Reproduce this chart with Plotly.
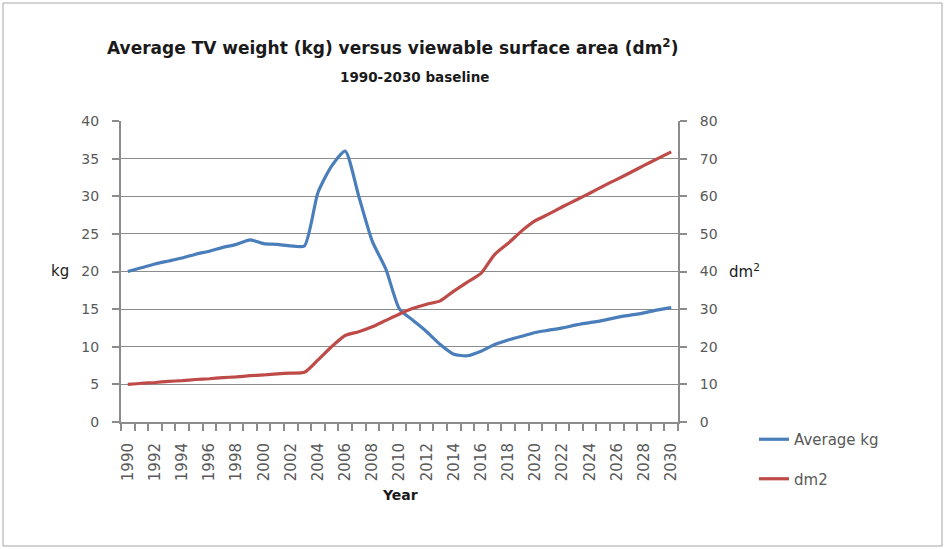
import plotly.graph_objects as go

# Years (one category per year)
years = list(range(1990, 2031))

# Average TV weight, kg
avg_kg = [20.0, 20.5, 21.0, 21.4, 21.8, 22.3, 22.7, 23.2, 23.6, 24.2,
          23.7, 23.6, 23.4, 23.4, 30.5, 34.0, 36.0, 30.0, 24.0, 20.3,
          15.0, 13.5, 12.0, 10.3, 9.0, 8.8, 9.4, 10.3, 10.9, 11.4,
          11.9, 12.2, 12.5, 12.9, 13.2, 13.5, 13.9, 14.2, 14.5, 14.9, 15.2]

# Viewable surface area, dm2
area_dm2 = [10.0, 10.3, 10.5, 10.8, 11.0, 11.3, 11.5, 11.8, 12.0, 12.3,
            12.5, 12.8, 13.0, 13.2, 16.5, 20.0, 23.0, 24.0, 25.3, 27.0,
            28.7, 30.2, 31.3, 32.2, 34.8, 37.2, 39.5, 44.5, 47.5, 50.8,
            53.5, 55.3, 57.2, 59.0, 60.8, 62.7, 64.5, 66.3, 68.2, 70.0, 71.8]

x_labels = [y for y in years if y % 2 == 0]

FONT = "DejaVu Sans, sans-serif"
GRAY = "#595959"
DARK = "#1a1a1a"
GRID = "#8c8c8c"

fig = go.Figure()
fig.add_trace(go.Scatter(
    x=years, y=avg_kg, name="Average kg", mode="lines",
    line=dict(color="#4A7EBB", width=3.2, shape="spline", smoothing=0.6),
    legendgroup="a", yaxis="y"))
fig.add_trace(go.Scatter(
    x=years, y=area_dm2, name="dm2", mode="lines",
    line=dict(color="#BE4B48", width=3.2, shape="spline", smoothing=0.6),
    legendgroup="b", yaxis="y2"))

W, H = 945, 549
L, R, T, B = 121, 267, 121, 127
pw, ph = W - L - R, H - T - B

def px(x):
    return (x - L) / pw

def py(y):
    return (H - B - y) / ph

fig.update_layout(
    width=W, height=H,
    margin=dict(l=L, r=R, t=T, b=B, autoexpand=False),
    paper_bgcolor="white", plot_bgcolor="white",
    font=dict(family=FONT, size=14, color=GRAY),
    xaxis=dict(
        range=[1989.5, 2030.5], tickmode="array",
        tickvals=x_labels, ticktext=[str(v) for v in x_labels],
        tickangle=-90, ticks="", ticklen=0, showgrid=False,
        ticklabelstandoff=13,
        showline=True, linecolor=GRID, linewidth=2,
        tickfont=dict(size=15, color=GRAY),
        minor=dict(ticks="outside", tickvals=[1989.5 + i for i in range(42)],
                   ticklen=7, tickcolor=GRID, tickwidth=1.5, showgrid=False),
        zeroline=False, fixedrange=True),
    yaxis=dict(
        range=[0, 40], dtick=5, showgrid=True, gridcolor=GRID, gridwidth=1,
        showline=True, linecolor=GRID, linewidth=2,
        ticks="outside", ticklen=7, tickcolor=GRID, tickwidth=1.5,
        ticklabelstandoff=10,
        tickfont=dict(size=14, color=GRAY), zeroline=False),
    yaxis2=dict(
        range=[0, 80], dtick=10, overlaying="y", side="right",
        showgrid=False, showline=True, linecolor=GRID, linewidth=2,
        ticks="outside", ticklen=7, tickcolor=GRID, tickwidth=1.5,
        ticklabelstandoff=10,
        tickfont=dict(size=14, color=GRAY), zeroline=False),
    showlegend=True,
    legend=dict(x=px(754), y=py(423), xanchor="left", yanchor="top",
                font=dict(size=15, color=GRAY), tracegroupgap=17,
                bgcolor="rgba(0,0,0,0)", itemwidth=30),
)

# Chart titles and axis labels
fig.add_annotation(x=px(392), y=py(47), xref="paper", yref="paper",
                   text="<b>Average TV weight (kg) versus viewable surface area (dm<sup>2</sup>)</b>",
                   showarrow=False, font=dict(size=17, color=DARK, family=FONT),
                   xanchor="center", yanchor="middle")
fig.add_annotation(x=px(414), y=py(77), xref="paper", yref="paper",
                   text="<b>1990-2030 baseline</b>",
                   showarrow=False, font=dict(size=13.5, color=DARK, family=FONT),
                   xanchor="center", yanchor="middle")
fig.add_annotation(x=px(60), y=py(271), xref="paper", yref="paper",
                   text="kg", showarrow=False,
                   font=dict(size=15, color=DARK, family=FONT),
                   xanchor="center", yanchor="middle")
fig.add_annotation(x=px(727), y=py(271), xref="paper", yref="paper",
                   text="dm<sup>2</sup>", showarrow=False,
                   font=dict(size=15, color=DARK, family=FONT),
                   xanchor="left", yanchor="middle")
fig.add_annotation(x=0.5, y=py(495), xref="paper", yref="paper",
                   text="<b>Year</b>", showarrow=False,
                   font=dict(size=14, color=DARK, family=FONT),
                   xanchor="center", yanchor="middle")

# Chart-area border
fig.add_shape(type="rect", xref="paper", yref="paper",
              x0=px(3), x1=px(942), y0=py(546), y1=py(3),
              line=dict(color="#a6a6a6", width=1), layer="below")

fig.write_html("out.html")
